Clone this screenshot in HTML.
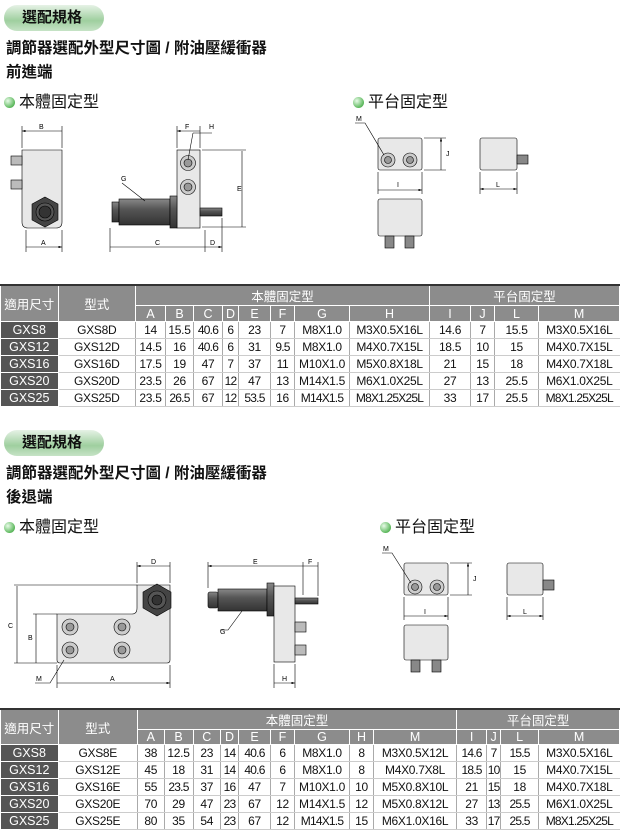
<!DOCTYPE html>
<html><head><meta charset="utf-8"><style>
body{margin:0;width:620px;height:829px;background:#fff;position:relative;overflow:hidden;font-family:"Liberation Sans","Noto Sans CJK TC",sans-serif}
.pill{position:absolute;left:4px;width:100px;height:26px;border-radius:13px;background:linear-gradient(#e6f2e6,#9fcf9f 60%,#c6e3c6);font-weight:bold;font-size:15px;line-height:26px;padding-left:18px;box-sizing:border-box;color:#111}
.t{position:absolute;left:6px;font-weight:bold;font-size:15.5px;color:#111;white-space:nowrap}
.s{position:absolute;font-size:16px;color:#111;white-space:nowrap}
.s i{display:inline-block;width:11px;height:11px;border-radius:50%;background:radial-gradient(circle at 35% 35%,#e8fbe8,#5cb85c 70%,#3a8a3a);margin-right:4px;vertical-align:-1px}
table{position:absolute;left:0;border-collapse:collapse;table-layout:fixed;font-size:12px;letter-spacing:-.3px;border-top:2px solid #333;border-bottom:1px solid #333}
td{padding:0;text-align:center;white-space:nowrap;overflow:hidden;border-left:1px solid #aaa;border-bottom:1px solid #ccc;color:#111}
td.h{background:#8c8c8c;color:#fff;border:1px solid #fff;font-size:12.5px;letter-spacing:0}
td.k{background:#555;color:#fff;border:1px solid #fff;font-size:12.5px;letter-spacing:0}
.n{letter-spacing:-.8px}
</style></head><body>
<div class="pill" style="top:5px">選配規格</div>
<div class="t" style="top:36px">調節器選配外型尺寸圖 / 附油壓緩衝器</div>
<div class="t" style="top:60px">前進端</div>
<div class="s" style="left:4px;top:88px"><i></i>本體固定型</div>
<div class="s" style="left:353px;top:88px"><i></i>平台固定型</div>
<div class="pill" style="top:430px">選配規格</div>
<div class="t" style="top:461px">調節器選配外型尺寸圖 / 附油壓緩衝器</div>
<div class="t" style="top:485px">後退端</div>
<div class="s" style="left:4px;top:513px"><i></i>本體固定型</div>
<div class="s" style="left:380px;top:513px"><i></i>平台固定型</div>

<svg width="620" height="829" style="position:absolute;left:0;top:0" font-family="Liberation Sans" font-size="7">
<defs>
<marker id="a" markerWidth="6" markerHeight="4" refX="6" refY="2" orient="auto-start-reverse"><path d="M0,0L6,2L0,4z" fill="#000"/></marker>
<linearGradient id="dk" x1="0" y1="0" x2="0" y2="1"><stop offset="0" stop-color="#888"/><stop offset=".4" stop-color="#555"/><stop offset="1" stop-color="#333"/></linearGradient>
</defs>
<g stroke="#000" stroke-width=".6" fill="none">
<path d="M22,150H62V222Q62,228 56,228H28Q22,228 22,222Z" fill="#e8e8e8"/>
<rect x="11" y="156" width="11" height="9" fill="#bbb"/><rect x="11" y="180" width="11" height="9" fill="#bbb"/>
<polygon points="45,197 58,204 58,220 45,227 32,220 32,204" fill="#444"/>
<circle cx="45" cy="212" r="9" fill="#555"/><circle cx="45" cy="212" r="6" fill="#333"/>
<path d="M22,148V126M62,148V126M26,230V252M62,230V252"/>
<path d="M22,131H62M26,247H62" marker-start="url(#a)" marker-end="url(#a)"/>
<rect x="177" y="150" width="23" height="78" fill="#e8e8e8"/>
<circle cx="188" cy="163" r="7.5" fill="#ccc"/><circle cx="188" cy="163" r="4" fill="#999"/>
<circle cx="188" cy="187" r="7.5" fill="#ccc"/><circle cx="188" cy="187" r="4" fill="#999"/>
<rect x="112" y="202" width="7" height="20" fill="url(#dk)"/>
<rect x="119" y="199" width="51" height="26" fill="url(#dk)"/>
<rect x="170" y="196" width="7" height="32" fill="url(#dk)"/>
<rect x="200" y="208" width="22" height="8" fill="url(#dk)"/>
<path d="M177,148V126M200,148V126M202,150H246M202,227H246M110,228V252M205,230V252M222,218V252"/>
<path d="M177,131H200M242,151V227M110,247H205M205,247H222" marker-start="url(#a)" marker-end="url(#a)"/>
<path d="M122,183L145,201M193,133L212,133M193,133L188,160"/>
<rect x="378" y="138" width="44" height="32" rx="2" fill="#e8e8e8"/>
<circle cx="388" cy="160" r="7" fill="#ccc"/><circle cx="388" cy="160" r="3.5" fill="#999"/>
<circle cx="410" cy="160" r="7" fill="#ccc"/><circle cx="410" cy="160" r="3.5" fill="#999"/>
<path d="M424,138H446M424,170H446M378,172V194M422,172V194M355,123H365L384,155"/>
<path d="M441,138V170M378,190H422" marker-start="url(#a)" marker-end="url(#a)"/>
<rect x="480" y="138" width="37" height="32" rx="2" fill="#e8e8e8"/>
<rect x="517" y="155" width="11" height="9" fill="#888"/>
<path d="M480,172V194M517,172V194"/><path d="M480,189H517" marker-start="url(#a)" marker-end="url(#a)"/>
<rect x="378" y="199" width="44" height="37" rx="2" fill="#e8e8e8"/>
<rect x="385" y="236" width="9" height="12" fill="#888"/><rect x="405" y="236" width="9" height="12" fill="#888"/>
<path d="M57,614H132Q137,614 137,608V585H170V660Q170,663 167,663H60Q57,663 57,660Z" fill="#e8e8e8"/>
<polygon points="157,584 171,592 171,608 157,616 143,608 143,592" fill="#444"/>
<circle cx="157" cy="600" r="9" fill="#555"/><circle cx="157" cy="600" r="5" fill="#333"/>
<g fill="#ccc"><circle cx="70" cy="627" r="8"/><circle cx="122" cy="627" r="8"/><circle cx="70" cy="650" r="8"/><circle cx="122" cy="650" r="8"/></g>
<g fill="#999"><circle cx="70" cy="627" r="4"/><circle cx="122" cy="627" r="4"/><circle cx="70" cy="650" r="4"/><circle cx="122" cy="650" r="4"/></g>
<path d="M137,583V562M170,583V562M14,585H137M33,614H57M14,663H57M57,665V688M170,665V688M35,683H50L64,660"/>
<path d="M137,566H170M17,586V663M36,614V663M57,683H170" marker-start="url(#a)" marker-end="url(#a)"/>
<rect x="208" y="592" width="10" height="16" rx="2" fill="url(#dk)"/>
<rect x="218" y="589" width="49" height="22" fill="url(#dk)"/>
<rect x="267" y="583" width="7" height="33" fill="url(#dk)"/>
<rect x="274" y="586" width="21" height="76" fill="#e8e8e8"/>
<rect x="295" y="598" width="23" height="6" fill="url(#dk)"/>
<rect x="295" y="622" width="11" height="10" fill="#bbb"/><rect x="295" y="645" width="11" height="10" fill="#bbb"/>
<path d="M208,588V562M303,595V562M318,596V562M274,664V688M295,664V688M220,630H228L242,611"/>
<path d="M208,566H303M303,566H318M274,683H295" marker-start="url(#a)" marker-end="url(#a)"/>
<rect x="404" y="563" width="44" height="32" rx="2" fill="#e8e8e8"/>
<circle cx="415" cy="587" r="7" fill="#ccc"/><circle cx="415" cy="587" r="3.5" fill="#999"/>
<circle cx="437" cy="587" r="7" fill="#ccc"/><circle cx="437" cy="587" r="3.5" fill="#999"/>
<path d="M450,563H472M450,595H472M404,597V620M448,597V620M382,553H392L411,583"/>
<path d="M468,563V595M404,616H448" marker-start="url(#a)" marker-end="url(#a)"/>
<rect x="507" y="563" width="36" height="32" rx="2" fill="#e8e8e8"/>
<rect x="543" y="580" width="11" height="10" fill="#888"/>
<path d="M507,597V620M543,597V620"/><path d="M507,616H543" marker-start="url(#a)" marker-end="url(#a)"/>
<rect x="404" y="625" width="44" height="35" rx="2" fill="#e8e8e8"/>
<rect x="411" y="660" width="9" height="12" fill="#888"/><rect x="432" y="660" width="9" height="12" fill="#888"/>
</g>
<g fill="#000">
<text x="39" y="129">B</text><text x="41" y="245">A</text><text x="185" y="129">F</text><text x="209" y="129">H</text>
<text x="121" y="181">G</text><text x="155" y="245">C</text><text x="210" y="245">D</text><text x="237" y="191">E</text>
<text x="356" y="121">M</text><text x="446" y="156">J</text><text x="397" y="187">I</text><text x="496" y="187">L</text>
<text x="151" y="564">D</text><text x="8" y="628">C</text><text x="28" y="640">B</text><text x="110" y="681">A</text><text x="36" y="681">M</text>
<text x="253" y="564">E</text><text x="308" y="564">F</text><text x="282" y="681">H</text><text x="220" y="634">G</text>
<text x="383" y="551">M</text><text x="473" y="581">J</text><text x="424" y="614">I</text><text x="523" y="614">L</text>
</g>
</svg>

<table style="top:284px;width:619px">
<colgroup><col style="width:57.5px"><col style="width:77.5px"><col style="width:30px"><col style="width:28px"><col style="width:29px"><col style="width:16px"><col style="width:32px"><col style="width:24px"><col style="width:55px"><col style="width:80px"><col style="width:41px"><col style="width:24px"><col style="width:44px"><col style="width:81px"></colgroup>
<tr style="height:17px"><td class="h" rowspan="2">適用尺寸</td><td class="h" rowspan="2">型式</td><td class="h" colspan="8">本體固定型</td><td class="h" colspan="4">平台固定型</td></tr>
<tr style="height:16px"><td class="h">A</td><td class="h">B</td><td class="h">C</td><td class="h">D</td><td class="h">E</td><td class="h">F</td><td class="h">G</td><td class="h">H</td><td class="h">I</td><td class="h">J</td><td class="h">L</td><td class="h">M</td></tr>
<tr style="height:17px"><td class="k">GXS8</td><td>GXS8D</td><td>14</td><td>15.5</td><td class="n">40.6</td><td>6</td><td>23</td><td>7</td><td>M8X1.0</td><td>M3X0.5X16L</td><td>14.6</td><td>7</td><td>15.5</td><td>M3X0.5X16L</td></tr>
<tr style="height:17px"><td class="k">GXS12</td><td>GXS12D</td><td>14.5</td><td>16</td><td class="n">40.6</td><td>6</td><td>31</td><td class="n">9.5</td><td>M8X1.0</td><td>M4X0.7X15L</td><td>18.5</td><td>10</td><td>15</td><td>M4X0.7X15L</td></tr>
<tr style="height:17px"><td class="k">GXS16</td><td>GXS16D</td><td>17.5</td><td>19</td><td>47</td><td>7</td><td>37</td><td>11</td><td>M10X1.0</td><td>M5X0.8X18L</td><td>21</td><td>15</td><td>18</td><td>M4X0.7X18L</td></tr>
<tr style="height:17px"><td class="k">GXS20</td><td>GXS20D</td><td>23.5</td><td>26</td><td>67</td><td class="n">12</td><td>47</td><td>13</td><td>M14X1.5</td><td>M6X1.0X25L</td><td>27</td><td>13</td><td>25.5</td><td>M6X1.0X25L</td></tr>
<tr style="height:17px"><td class="k">GXS25</td><td>GXS25D</td><td>23.5</td><td class="n">26.5</td><td>67</td><td class="n">12</td><td class="n">53.5</td><td>16</td><td class="n">M14X1.5</td><td class="n">M8X1.25X25L</td><td>33</td><td>17</td><td>25.5</td><td class="n">M8X1.25X25L</td></tr>
</table>

<table style="top:708px;width:619px">
<colgroup><col style="width:57.5px"><col style="width:79.5px"><col style="width:26.5px"><col style="width:29px"><col style="width:27.5px"><col style="width:18px"><col style="width:32px"><col style="width:24px"><col style="width:55px"><col style="width:24px"><col style="width:83px"><col style="width:30px"><col style="width:14px"><col style="width:38px"><col style="width:81px"></colgroup>
<tr style="height:17px"><td class="h" rowspan="2">適用尺寸</td><td class="h" rowspan="2">型式</td><td class="h" colspan="9">本體固定型</td><td class="h" colspan="4">平台固定型</td></tr>
<tr style="height:15px"><td class="h">A</td><td class="h">B</td><td class="h">C</td><td class="h">D</td><td class="h">E</td><td class="h">F</td><td class="h">G</td><td class="h">H</td><td class="h">M</td><td class="h">I</td><td class="h">J</td><td class="h">L</td><td class="h">M</td></tr>
<tr style="height:17px"><td class="k">GXS8</td><td>GXS8E</td><td>38</td><td>12.5</td><td>23</td><td class="n">14</td><td class="n">40.6</td><td>6</td><td>M8X1.0</td><td>8</td><td>M3X0.5X12L</td><td class="n">14.6</td><td class="n">7</td><td class="n">15.5</td><td>M3X0.5X16L</td></tr>
<tr style="height:17px"><td class="k">GXS12</td><td>GXS12E</td><td>45</td><td>18</td><td>31</td><td class="n">14</td><td class="n">40.6</td><td>6</td><td>M8X1.0</td><td>8</td><td>M4X0.7X8L</td><td class="n">18.5</td><td class="n">10</td><td>15</td><td>M4X0.7X15L</td></tr>
<tr style="height:17px"><td class="k">GXS16</td><td>GXS16E</td><td>55</td><td class="n">23.5</td><td>37</td><td class="n">16</td><td>47</td><td>7</td><td>M10X1.0</td><td>10</td><td>M5X0.8X10L</td><td>21</td><td class="n">15</td><td>18</td><td>M4X0.7X18L</td></tr>
<tr style="height:17px"><td class="k">GXS20</td><td>GXS20E</td><td>70</td><td>29</td><td>47</td><td class="n">23</td><td>67</td><td>12</td><td>M14X1.5</td><td>12</td><td>M5X0.8X12L</td><td>27</td><td class="n">13</td><td class="n">25.5</td><td>M6X1.0X25L</td></tr>
<tr style="height:17px"><td class="k">GXS25</td><td>GXS25E</td><td>80</td><td>35</td><td>54</td><td class="n">23</td><td>67</td><td>12</td><td class="n">M14X1.5</td><td>15</td><td>M6X1.0X16L</td><td>33</td><td class="n">17</td><td class="n">25.5</td><td class="n">M8X1.25X25L</td></tr>
</table>
</body></html>
